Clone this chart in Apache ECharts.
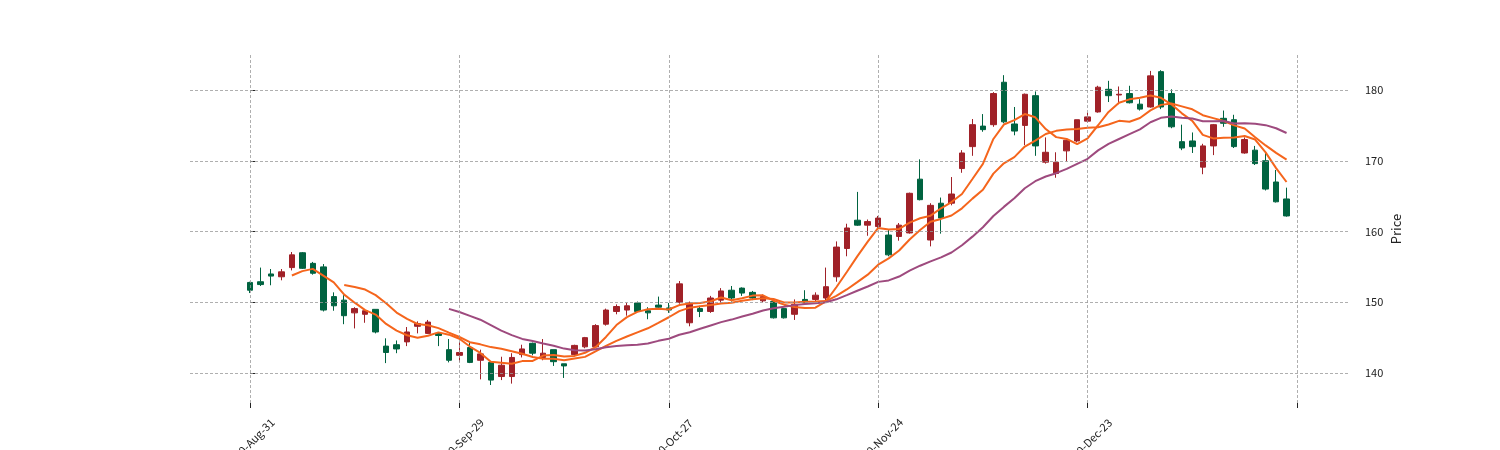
<!DOCTYPE html>
<html>
<head>
<meta charset="utf-8">
<script src="https://cdn.jsdelivr.net/npm/echarts@6/dist/echarts.min.js"></script>
<style>
html,body{margin:0;padding:0;background:#fff;}
#chart{width:1500px;height:450px;}
</style>
</head>
<body>
<div id="chart"></div>
<script>
// ---- data (trading days 2020-08-31 .. 2021-01-22) ----
const dates = [
"2020-08-31",
"2020-09-01","2020-09-02","2020-09-03","2020-09-04","2020-09-08","2020-09-09","2020-09-10","2020-09-11",
"2020-09-14","2020-09-15","2020-09-16","2020-09-17","2020-09-18","2020-09-21","2020-09-22","2020-09-23",
"2020-09-24","2020-09-25","2020-09-28","2020-09-29","2020-09-30",
"2020-10-01","2020-10-02","2020-10-05","2020-10-06","2020-10-07","2020-10-08","2020-10-09","2020-10-12",
"2020-10-13","2020-10-14","2020-10-15","2020-10-16","2020-10-19","2020-10-20","2020-10-21","2020-10-22",
"2020-10-23","2020-10-26","2020-10-27","2020-10-28","2020-10-29","2020-10-30",
"2020-11-02","2020-11-03","2020-11-04","2020-11-05","2020-11-06","2020-11-09","2020-11-10","2020-11-11",
"2020-11-12","2020-11-13","2020-11-16","2020-11-17","2020-11-18","2020-11-19","2020-11-20","2020-11-23",
"2020-11-24","2020-11-25","2020-11-27","2020-11-30",
"2020-12-01","2020-12-02","2020-12-03","2020-12-04","2020-12-07","2020-12-08","2020-12-09","2020-12-10",
"2020-12-11","2020-12-14","2020-12-15","2020-12-16","2020-12-17","2020-12-18","2020-12-21","2020-12-22",
"2020-12-23","2020-12-24","2020-12-28","2020-12-29","2020-12-30","2020-12-31",
"2021-01-04","2021-01-05","2021-01-06","2021-01-07","2021-01-08","2021-01-11","2021-01-12","2021-01-13",
"2021-01-14","2021-01-15","2021-01-19","2021-01-20","2021-01-21","2021-01-22"
];
const openP = [
152.8,152.9,154.0,153.6,154.9,157.0,155.5,155.0,150.8,150.3,
148.5,148.3,149.0,143.8,144.0,144.4,146.6,145.6,145.6,143.3,
142.5,143.6,141.8,141.5,139.5,139.5,142.6,144.2,142.2,143.3,
141.3,142.6,143.7,143.7,146.9,148.7,148.9,149.9,148.8,149.6,
149.2,150.0,147.1,149.1,148.7,150.3,151.7,152.0,151.4,150.2,
150.1,149.1,148.3,150.4,150.4,150.6,153.6,157.6,161.6,160.9,
160.7,159.5,159.3,159.8,167.4,158.8,164.0,164.0,168.9,172.0,
174.9,175.1,181.1,175.2,175.0,179.2,169.8,168.2,171.4,172.8,
175.6,176.9,180.1,179.3,179.5,178.0,177.6,182.6,179.5,172.7,
172.8,169.1,172.1,176.0,175.8,171.1,171.5,170.0,167.0,164.6
];
const highP = [
152.9,154.9,154.7,154.7,157.1,157.1,155.7,155.4,151.4,151.0,
149.3,149.0,149.0,144.9,144.6,146.5,147.3,147.5,145.7,144.8,
144.4,144.3,143.3,141.6,142.3,142.8,144.0,144.3,144.8,143.3,
141.3,144.0,145.1,146.9,149.1,149.7,149.9,150.1,149.3,150.8,
149.9,153.0,150.1,149.5,150.9,152.0,152.3,152.1,151.6,151.1,
150.2,149.2,150.4,151.7,151.4,154.9,158.6,161.1,165.6,161.7,
162.2,160.2,161.2,165.5,170.2,164.0,164.8,167.7,171.5,175.9,
176.6,179.7,182.1,177.6,179.5,179.8,173.3,171.2,173.2,175.8,
176.8,180.6,181.3,180.5,180.6,178.7,182.7,182.8,180.1,175.1,
174.0,172.4,175.2,177.1,176.5,173.3,172.1,171.1,168.7,166.2
];
const lowP = [
151.3,152.3,152.4,153.1,154.5,154.7,153.9,148.7,148.8,146.9,
146.3,147.1,145.6,141.4,142.8,143.8,145.6,145.5,143.8,141.5,
141.6,141.4,139.1,138.3,139.0,138.5,142.2,142.5,141.8,141.0,
139.3,142.5,143.5,143.6,146.7,148.3,148.1,148.7,147.6,149.1,
148.5,149.8,146.6,147.9,148.5,149.9,150.1,150.9,150.3,150.0,
147.7,147.7,147.5,149.8,150.1,150.3,152.9,156.5,160.8,159.4,
160.5,156.5,158.7,159.7,164.4,157.9,159.7,163.7,168.3,170.7,
174.1,174.8,175.3,173.6,172.2,170.7,169.6,167.6,169.9,172.6,
175.4,176.8,178.3,178.0,178.1,177.1,177.5,177.3,174.6,171.5,
171.1,168.1,170.8,174.8,171.8,171.0,169.4,165.8,164.1,162.1
];
const closeP = [
151.7,152.5,153.7,154.3,156.7,154.8,154.1,148.9,149.5,148.1,
149.1,148.8,145.8,142.9,143.4,145.8,147.0,147.2,145.3,141.8,
142.9,141.5,142.7,139.0,141.1,142.2,143.4,142.8,142.8,141.6,
141.0,143.9,145.0,146.7,148.9,149.4,149.5,148.7,148.5,149.3,
148.9,152.6,149.9,148.7,150.6,151.6,150.6,151.3,150.6,150.8,
147.8,147.8,149.7,149.9,151.0,152.2,157.8,160.5,160.9,161.4,
161.9,156.7,160.9,165.4,164.5,163.7,161.9,165.3,171.1,175.1,
174.4,179.5,175.5,174.2,179.4,172.1,171.2,169.8,172.9,175.8,
176.2,180.4,179.2,179.4,178.2,177.3,182.0,177.6,174.8,171.8,
172.0,172.1,175.1,175.3,172.0,173.0,169.6,166.0,164.2,162.2
];
const maPeriods = [5, 10, 20];
const maColors = ['#f5651c', '#f5651c', '#9e4a7e'];
const tickDates = ["2020-08-31","2020-09-29","2020-10-27","2020-11-24","2020-12-23"];
const tickLabels = ["2020-Aug-31","2020-Sep-29","2020-Oct-27","2020-Nov-24","2020-Dec-23"];
const yTicks = [140, 150, 160, 170, 180];

// ---- build ----
const tickIdx = tickDates.map(d => dates.indexOf(d));
const tickStep = tickIdx[1] - tickIdx[0];
const allTickIdx = tickIdx.concat([tickIdx[tickIdx.length - 1] + tickStep]);
const labelMap = {};
tickIdx.forEach((v, k) => labelMap[v] = tickLabels[k]);

const candleData = dates.map((d, i) => [i, openP[i], closeP[i], lowP[i], highP[i]]);

function movingAvg(n) {
  const out = [];
  for (let i = n - 1; i < closeP.length; i++) {
    let s = 0;
    for (let k = i - n + 1; k <= i; k++) s += closeP[k];
    out.push([i, s / n]);
  }
  return out;
}

const FONT = '"Noto Sans CJK SC", "DejaVu Sans", sans-serif';
const gridStyle = {color: '#9a9a9a', width: 0.8, type: [3, 2]};

const chart = echarts.init(document.getElementById('chart'), null, {renderer: 'canvas'});
const option = {
  animation: false,
  backgroundColor: '#ffffff',
  grid: {left: 190, right: 150, top: 55, bottom: 47, containLabel: false, outerBoundsMode: 'none'},
  xAxis: {
    type: 'value',
    min: -5.73,
    max: 105.06,
    splitLine: {show: false},
    axisLine: {show: false},
    axisTick: {show: true, customValues: allTickIdx, length: 5, lineStyle: {color: '#222', width: 1}},
    axisLabel: {
      customValues: tickIdx,
      formatter: v => labelMap[v] || '',
      rotate: 45,
      align: 'center',
      verticalAlign: 'middle',
      margin: 40,
      fontFamily: FONT,
      fontSize: 11,
      color: '#222'
    }
  },
  yAxis: {
    type: 'value',
    position: 'right',
    min: 135.76,
    max: 184.95,
    scale: true,
    splitLine: {show: false},
    axisLine: {show: false},
    axisTick: {show: true, customValues: yTicks, length: 5, lineStyle: {color: '#222', width: 1}},
    axisLabel: {customValues: yTicks, margin: 15, fontFamily: FONT, fontSize: 11, color: '#222'},
    name: 'Price',
    nameLocation: 'middle',
    nameRotate: 90,
    nameGap: 40,
    nameMoveOverlap: false,
    nameTextStyle: {fontFamily: FONT, fontSize: 13, color: '#222'}
  },
  series: [
    {
      type: 'line',
      data: [],
      z: 1,
      silent: true,
      markLine: {
        silent: true,
        symbol: ['none', 'none'],
        label: {show: false},
        animation: false,
        lineStyle: gridStyle,
        data: allTickIdx.map(v => ({xAxis: v})).concat(yTicks.map(v => ({yAxis: v})))
      }
    },
    {
      type: 'candlestick',
      z: 3,
      data: candleData,
      encode: {x: 0, y: [1, 2, 3, 4]},
      barWidth: 6,
      itemStyle: {
        color: '#a02128',
        color0: '#006340',
        borderColor: '#a02128',
        borderColor0: '#006340',
        borderWidth: 1
      }
    }
  ].concat(maPeriods.map((n, k) => ({
    type: 'line',
    z: 4,
    data: movingAvg(n),
    showSymbol: false,
    symbol: 'none',
    lineStyle: {color: maColors[k], width: 2},
    itemStyle: {color: maColors[k]}
  })))
};
chart.setOption(option);
</script>
</body>
</html>
